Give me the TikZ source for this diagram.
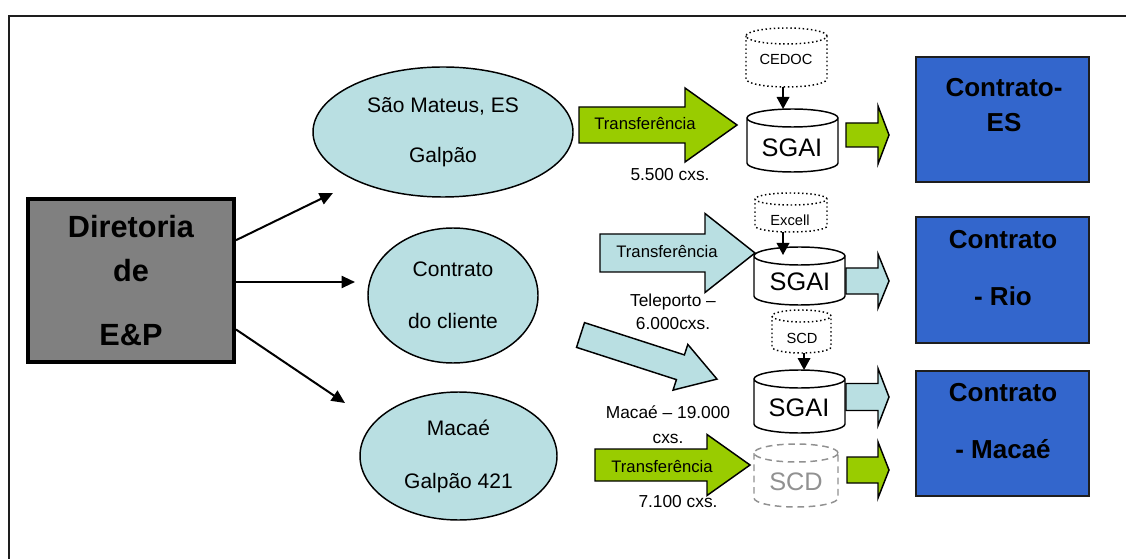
\documentclass[tikz,border=0pt]{standalone}
\usepackage{fontspec}
\setmainfont{Liberation Sans}
\usetikzlibrary{arrows.meta,calc,shapes.geometric}

\definecolor{leaf}{RGB}{153,204,0}
\definecolor{aqua}{RGB}{185,223,226}
\definecolor{royal}{RGB}{51,102,204}
\definecolor{slate}{RGB}{128,128,128}
\definecolor{ghost}{RGB}{145,145,145}
\definecolor{ink}{RGB}{30,30,30}

% horizontal block arrow: style, tail x, axis y, head x, tip x, half shaft, half head
\newcommand\blockarrow[7]{%
  \draw[#1] (#2,{#3+#6}) -- (#4,{#3+#6}) -- (#4,{#3+#7}) -- (#5,#3)
    -- (#4,{#3-#7}) -- (#4,{#3-#6}) -- (#2,{#3-#6}) -- cycle;}

% database drum: name, outline style, centre x, top y, bottom y, x radius, cap radius
\newcommand\drum[7]{%
  \node[inner sep=0pt, outer sep=0pt, minimum width={2*(#6)*0.75pt},
        minimum height={((#4)-(#5))*0.75pt}] (#1) at ({#3},{((#4)+(#5))/2}) {};
  \draw[#2] ({#3-#6},{#4-#7}) -- ({#3-#6},{#5+#7})
     arc[start angle=180,end angle=360,x radius=#6,y radius=#7]
     -- ({#3+#6},{#4-#7})
     ({#3},{#4-#7}) ellipse[x radius=#6,y radius=#7];}

\begin{document}
\begin{tikzpicture}[x=0.75pt,y=0.75pt,
  director/.style={draw=black, line width=3pt, fill=slate, align=center,
    font=\bfseries\fontsize{23}{33}\selectfont, inner sep=0pt},
  site/.style={ellipse, draw, line width=1.1pt, fill=aqua, align=center, inner sep=0pt},
  contract/.style={draw=ink, line width=1.5pt, fill=royal, inner sep=0pt},
  contracttext/.style={align=center, inner sep=0pt},
  link/.style={-{Triangle[length=10pt,width=9pt]}, line width=1.5pt},
  feed/.style={-{Triangle[length=9pt,width=9.5pt]}, line width=1.1pt},
  greenblock/.style={draw=black, line width=1.1pt, fill=leaf, line join=miter},
  aquablock/.style={draw=black, line width=1.1pt, fill=aqua, line join=miter},
  soliddrum/.style={draw=black, line width=1.1pt},
  dotdrum/.style={draw=black, line width=1.1pt, dotted},
  ghostdrum/.style={draw=ghost, line width=1.1pt, dash pattern=on 5pt off 3.5pt},
  dbtext/.style={font=\fontsize{19}{23}\selectfont, inner sep=0pt},
  smalldb/.style={font=\fontsize{11}{13}\selectfont, inner sep=0pt},
  flowtext/.style={font=\fontsize{12.5}{15}\selectfont, inner sep=0pt},
  counttext/.style={font=\fontsize{13}{17.5}\selectfont, align=center, inner sep=0pt}
]
\useasboundingbox (0,0) rectangle (1126,-559);
\clip (0,0) rectangle (1126,-559);

% outer frame
\draw[line width=1.1pt, ink] (9,-16) rectangle (1150,-585);

% head office
\node[director, minimum width=206*0.75pt, minimum height=163*0.75pt] (dir)
  at (131,-280.5) {Diretoria\\de\\[15pt]E\&P};

% sites
\node[site, minimum width=260*0.75pt, minimum height=130*0.75pt,
      font=\fontsize{15.75}{37.5}\selectfont] (sao) at (443,-132) {São Mateus, ES\\Galpão};
\node[site, minimum width=170*0.75pt, minimum height=135*0.75pt,
      font=\fontsize{15.75}{39}\selectfont] (cli) at (453,-295.5) {Contrato\\do cliente};
\node[site, minimum width=197*0.75pt, minimum height=128*0.75pt,
      font=\fontsize{15.75}{39.75}\selectfont] (mac) at (458.5,-456) {Macaé\\Galpão 421};

% links from the head office
\coordinate (toS) at (333,-193);
\coordinate (toC) at (355,-282);
\coordinate (toM) at (345,-403);
\draw[link] (dir.21) -- (toS);
\draw[link] (dir.east |- toC) -- (toC);
\draw[link] (dir.-25) -- (toM);

% transfer arrows
\blockarrow{greenblock}{579}{-125}{685}{737}{18}{37}
\blockarrow{aquablock}{600}{-253}{705}{755}{19}{39.5}
\blockarrow{greenblock}{595}{-465}{707}{750}{16}{30.5}
\begin{scope}[shift={(580.5,-335)}, rotate=-17.9]
  \draw[aquablock] (0,13) -- (105,13) -- (105,24) -- (143.4,0) -- (105,-24)
    -- (105,-13) -- (0,-13) -- cycle;
\end{scope}

\node[flowtext] (trS) at (645,-124) {Transferência};
\node[counttext] (nS) at (670,-175) {5.500 cxs.};
\node[flowtext] (trR) at (667,-252) {Transferência};
\node[counttext, font=\fontsize{13}{17.25}\selectfont] (nR) at (673,-311.5) {Teleporto –\\6.000cxs.};
\node[counttext, font=\fontsize{13}{18.75}\selectfont] (nM) at (668,-424.5) {Macaé – 19.000\\cxs.};
\node[flowtext] (trM) at (662,-467) {Transferência};
\node[counttext] (nG) at (678,-502) {7.100 cxs.};

% databases
\drum{cedoc}{dotdrum}{786.5}{-28}{-87}{40.5}{8}
\drum{sgaiS}{soliddrum}{792.5}{-109}{-172}{45.5}{9}
\drum{excell}{dotdrum}{791}{-193}{-232}{36}{6}
\drum{sgaiR}{soliddrum}{799.5}{-247}{-305}{45.5}{9}
\drum{scd}{dotdrum}{801.5}{-310}{-353}{29.5}{6}
\drum{sgaiM}{soliddrum}{799.5}{-370}{-433}{45.5}{9}
\drum{scdM}{ghostdrum}{796}{-444}{-507}{42}{9}

\node[smalldb] (cedoc-t) at (786,-59) {CEDOC};
\node[dbtext] (sgaiS-t) at (792,-148) {SGAI};
\node[smalldb] (excell-t) at (790,-220) {Excell};
\node[dbtext] (sgaiR-t) at (800,-282) {SGAI};
\node[smalldb] (scd-t) at (802,-338) {SCD};
\node[dbtext] (sgaiM-t) at (799,-408) {SGAI};
\node[dbtext, text=ghost] (scdM-t) at (796,-482) {SCD};

% feeds into SGAI
\coordinate (cedocOut) at ([xshift=-2.6pt]cedoc.south);
\coordinate (excellOut) at ([xshift=-6pt]excell.south);
\coordinate (scdOut) at ([xshift=1.9pt]scd.south);
\draw[feed] (cedocOut) -- (cedocOut |- sgaiS.north);
\draw[feed, shorten >=-6pt] (excellOut) -- (excellOut |- sgaiR.north);
\draw[feed] (scdOut) -- (scdOut |- sgaiM.north);

% output arrows
\blockarrow{greenblock}{846}{-135}{878}{889}{12}{29}
\blockarrow{aquablock}{846}{-281}{878}{889}{13}{27}
\blockarrow{aquablock}{846}{-397}{878}{889}{13.5}{28.5}
\blockarrow{greenblock}{847}{-470}{878}{889}{13}{28}

% contracts
\node[contract, minimum width=173*0.75pt, minimum height=125*0.75pt] (cES) at (1002.5,-119.5) {};
\node[contracttext, font=\bfseries\fontsize{19.5}{26.25}\selectfont] (cES-t) at (1004,-105.5) {Contrato-\\ES};
\node[contract, minimum width=173*0.75pt, minimum height=126*0.75pt] (cRio) at (1002.5,-280) {};
\node[contracttext, font=\bfseries\fontsize{19.5}{42.75}\selectfont] (cRio-t) at (1003,-268.5) {Contrato\\- Rio};
\node[contract, minimum width=173*0.75pt, minimum height=125*0.75pt] (cMac) at (1002.5,-433.5) {};
\node[contracttext, font=\bfseries\fontsize{19.5}{42.75}\selectfont] (cMac-t) at (1003,-421.5) {Contrato\\- Macaé};
\end{tikzpicture}
\end{document}
